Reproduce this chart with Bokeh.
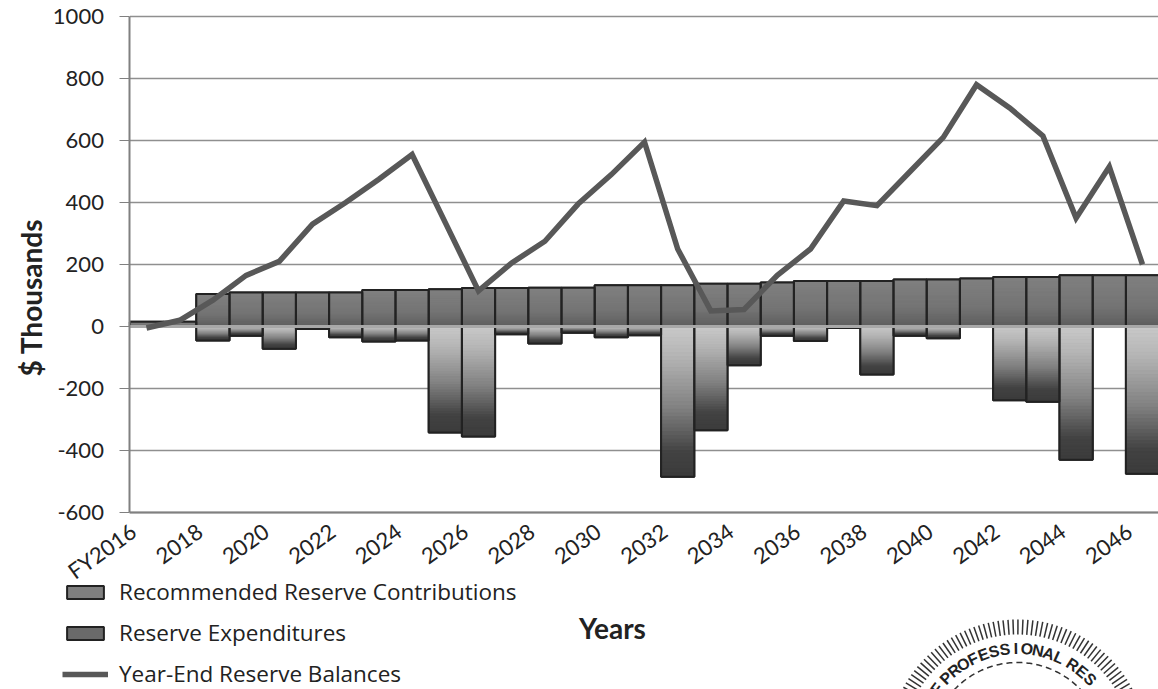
import numpy as np
from bokeh.plotting import figure
from bokeh.models import Range1d, LinearAxis, FixedTicker, Legend, LegendItem
from bokeh.core.properties import value
from bokeh.embed import file_html
from bokeh.resources import INLINE

years = ["FY2016"] + [str(y) for y in range(2017, 2047)]
contributions = [15, 15, 105, 110, 110, 110, 110, 118, 118, 120, 124, 124, 125, 125, 133, 133,
                 133, 138, 138, 142, 147, 147, 147, 152, 152, 155, 160, 160, 165, 165, 165]
expenditures = [0, 0, -45, -30, -72, -8, -35, -48, -45, -342, -355, -25, -55, -20, -35, -28,
                -485, -335, -125, -30, -47, -5, -155, -30, -38, -2, -238, -243, -430, -2, -475]
balances = [-5, 20, 85, 165, 210, 330, 400, 475, 555, 335, 115, 205, 275, 395, 490, 595,
            250, 50, 55, 165, 250, 405, 390, 500, 610, 780, 705, 615, 350, 515, 200]
y_ticks = [-600, -400, -200, 0, 200, 400, 600, 800, 1000]
x_tick_idx = list(range(0, 31, 2))
FONT = "Lato"
LEGEND_FONT = "Open Sans"

PX_PER_CAT, X0 = 33.2, 146
PX_PER_UNIT, Y0 = 0.31, 326
W, H = 1158, 689
x_range = Range1d((0 - X0) / PX_PER_CAT, (W - X0) / PX_PER_CAT)
y_range = Range1d((Y0 - H) / PX_PER_UNIT, (Y0 - 0) / PX_PER_UNIT)

p = figure(width=W, height=H, output_backend="svg", toolbar_location=None,
           x_range=x_range, y_range=y_range, min_border=0, outline_line_color=None,
           background_fill_color="white", border_fill_color="white",
           x_axis_location=None, y_axis_location=None)
p.grid.visible = False
# ranges for the page decorations, in reference pixels
p.extra_x_ranges["px"] = Range1d(0, W)
p.extra_y_ranges["px"] = Range1d(H, 0)

x = np.arange(len(years))
# gridlines
p.segment(x0=[-0.5] * len(y_ticks), x1=[x_range.end] * len(y_ticks), y0=y_ticks, y1=y_ticks,
          line_color="#8f8f8f", line_width=1.6)


def ramp(stops, t):
    ts, cs = zip(*stops)
    return "#%02x%02x%02x" % tuple(int(round(np.interp(t, ts, [c[i] for c in cs]))) for i in range(3))


def g(v):
    return (v, v, v)


def gradient_bars(vals, stops, n=40):
    L, R, B, T, C = [], [], [], [], []
    for i, v in enumerate(vals):
        edges = np.linspace(0, v, n + 1)
        for k in range(n):
            L.append(i - 0.5); R.append(i + 0.5)
            B.append(edges[k]); T.append(edges[k + 1])
            C.append(ramp(stops, k / (n - 1)))
    p.quad(left=L, right=R, bottom=B, top=T, fill_color=C, line_color=C, line_width=1)


left, right = x - 0.5, x + 0.5
zeros = [0] * len(x)
r_c = p.quad(left=left, right=right, bottom=zeros, top=contributions, fill_color="#808080",
             line_color="#222222", line_width=2)
r_e = p.quad(left=left, right=right, bottom=expenditures, top=zeros, fill_color="#6a6a6a",
             line_color="#222222", line_width=2)
gradient_bars(contributions, [(0, g(0x5e)), (0.4, g(0x74)), (1, g(0x80))])
gradient_bars(expenditures, [(0, g(0xc8)), (0.2, g(0xb4)), (0.55, g(0x80)), (0.85, g(0x42)), (1, g(0x3c))])
p.quad(left=left, right=right, bottom=zeros, top=contributions, fill_color=None,
       line_color="#222222", line_width=2)
p.quad(left=left, right=right, bottom=expenditures, top=zeros, fill_color=None,
       line_color="#222222", line_width=2)
p.segment(x0=[-0.5], x1=[x_range.end], y0=[0], y1=[0], line_color="#a8a8a8", line_width=3)
r_l = p.line(x, balances, line_color="#585858", line_width=5.5, line_join="miter")

# the slanted year labels sit a little left of their bars
label_shift = 0.40
x_label_pos = [i - label_shift for i in x_tick_idx]
yaxis = LinearAxis(ticker=FixedTicker(ticks=y_ticks), fixed_location=-0.5, bounds=(-600, 1000),
                   major_label_overrides={t: str(t) for t in y_ticks})
xaxis = LinearAxis(ticker=FixedTicker(ticks=x_label_pos), fixed_location=-600,
                   major_label_overrides={i - label_shift: years[i] for i in x_tick_idx},
                   major_label_orientation=0.62, bounds=(-0.5, x_range.end))
for ax in (xaxis, yaxis):
    ax.axis_line_color = "#808080"
    ax.axis_line_width = 2
    ax.major_tick_line_color = "#808080"
    ax.minor_tick_line_color = None
    ax.major_label_text_font = FONT
    ax.major_label_text_font_size = "22px"
    ax.major_label_text_color = "#222222"
yaxis.major_tick_out = 10
yaxis.major_tick_in = 0
yaxis.major_label_standoff = 16
xaxis.major_tick_out = 0
xaxis.major_tick_in = 0
xaxis.major_label_standoff = 16
p.add_layout(yaxis, "left")
p.add_layout(xaxis, "below")

# axis titles
p.text(x=[30], y=[297], text=["$ Thousands"], angle=np.pi / 2, text_align="center", text_baseline="middle",
       text_font=value(FONT), text_font_style="bold", text_font_size="28px", text_color="#222222",
       x_range_name="px", y_range_name="px")
p.text(x=[612], y=[627], text=["Years"], text_align="center", text_baseline="middle",
       text_font=value(FONT), text_font_style="bold", text_font_size="28px", text_color="#222222",
       x_range_name="px", y_range_name="px")

# legend
legend = Legend(items=[LegendItem(label="Recommended Reserve Contributions", renderers=[r_c]),
                       LegendItem(label="Reserve Expenditures", renderers=[r_e]),
                       LegendItem(label="Year-End Reserve Balances", renderers=[r_l])],
                location=(62, 0), orientation="vertical", border_line_color=None,
                background_fill_alpha=0, padding=0, margin=0, spacing=10,
                glyph_width=46, glyph_height=16, label_standoff=11,
                label_text_font=LEGEND_FONT, label_text_font_size="22.5px", label_text_color="#222222")
p.add_layout(legend, "center")

# seal in the bottom-right corner
CX, CY = 1017, 749
tick_a = np.radians(np.arange(-68, 68.1, 2.2))
p.segment(x0=CX + 115 * np.sin(tick_a), y0=CY - 115 * np.cos(tick_a),
          x1=CX + 130 * np.sin(tick_a), y1=CY - 130 * np.cos(tick_a),
          line_color="#333333", line_width=1.5, x_range_name="px", y_range_name="px")
seal_letters = list("F") + list("PROFESSIONAL") + list("RES")
seal_deg = [-53] + list(np.arange(-45, 25, 6.3)) + [33, 39.5, 46]
seal_rad = np.radians(seal_deg)
p.text(x=CX + 101 * np.sin(seal_rad), y=CY - 101 * np.cos(seal_rad), text=seal_letters, angle=-seal_rad,
       text_align="center", text_baseline="middle", text_font=value("Liberation Sans"),
       text_font_style="bold", text_font_size="16px", text_color="#222222",
       x_range_name="px", y_range_name="px")
arc_a = np.radians(np.arange(-60, 60.1, 1))
p.line(CX + 87 * np.sin(arc_a), CY - 87 * np.cos(arc_a), line_color="#333333", line_width=1.5,
       line_dash="6 4", x_range_name="px", y_range_name="px")

open("out.html", "w").write(file_html(p, INLINE))
